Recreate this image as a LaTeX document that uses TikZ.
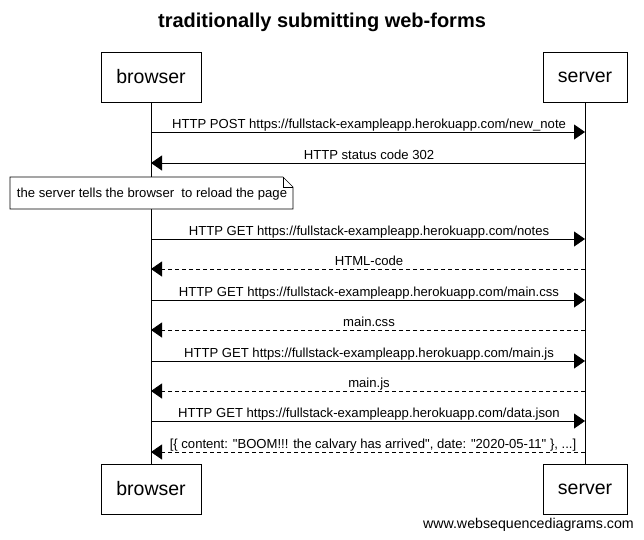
\documentclass[tikz,border=0pt]{standalone}
\usepackage{fontspec}
\setmainfont{Liberation Sans}[Ligatures=TeXOff]
\usetikzlibrary{arrows.meta}
\begin{document}
\begin{tikzpicture}[x=1pt,y=-1pt,
  actor/.style={draw,line width=0.8pt,minimum width=100pt,minimum height=50pt,inner sep=0pt,font=\fontsize{19.5}{22}\selectfont},
  msg/.style={line width=0.8pt,-{Triangle[length=11pt,width=15pt]}},
  reply/.style={msg,dashed,dash pattern=on 4pt off 3pt},
  lbl/.style={font=\fontsize{13.1}{15}\selectfont,inner sep=0pt,anchor=base},
  life/.style={line width=0.8pt}]
\useasboundingbox (0,0) rectangle (644,539);
\node[font=\bfseries\fontsize{20}{22}\selectfont] (title) at (322,22) {traditionally submitting web-forms};
\node[actor] (bt) at (151,77) {browser};
\node[actor,minimum width=84pt] (st) at (585,77) {server};
\node[actor] (bb) at (151,489) {browser};
\node[actor,minimum width=84pt] (sb) at (585,489) {server};
\draw[life] (bt.south) -- (bb.north);
\draw[life] (st.south) -- (sb.north);
% message rows
\foreach \n/\y in {1/132,2/163,3/239,4/269,5/300,6/330,7/361,8/391,9/421,10/452}{
  \coordinate (b\n) at (151,\y);
  \coordinate (s\n) at (585,\y);
}
\draw[msg] (b1) -- (s1);
\node[lbl] (l1) at (369,128) {HTTP POST https://fullstack-exampleapp.herokuapp.com/new\_note};
\draw[msg] (s2) -- (b2);
\node[lbl] (l2) at (369,159) {HTTP status code 302};
% note
\coordinate (n1) at (10,177);
\coordinate (n2) at (283,177);
\coordinate (n3) at (293,187);
\coordinate (n4) at (293,209);
\coordinate (n5) at (10,209);
\draw[line width=0.6pt,fill=white] (n1) -- (n2) -- (n3) -- (n4) -- (n5) -- cycle;
\draw[line width=0.6pt] (n2) -- (283,187) -- (n3);
\node[lbl,font=\fontsize{13.1}{15}\selectfont] (note) at (152,197) {the server tells the browser\ \ to reload the page};
\draw[msg] (b3) -- (s3);
\node[lbl] (l3) at (369,235) {HTTP GET https://fullstack-exampleapp.herokuapp.com/notes};
\draw[reply] (s4) -- (b4);
\node[lbl] (l4) at (369,265) {HTML-code};
\draw[msg] (b5) -- (s5);
\node[lbl] (l5) at (369,296) {HTTP GET https://fullstack-exampleapp.herokuapp.com/main.css};
\draw[reply] (s6) -- (b6);
\node[lbl] (l6) at (369,326) {main.css};
\draw[msg] (b7) -- (s7);
\node[lbl] (l7) at (369,357) {HTTP GET https://fullstack-exampleapp.herokuapp.com/main.js};
\draw[reply] (s8) -- (b8);
\node[lbl] (l8) at (369,387) {main.js};
\draw[msg] (b9) -- (s9);
\node[lbl] (l9) at (369,417) {HTTP GET https://fullstack-exampleapp.herokuapp.com/data.json};
\draw[reply] (s10) -- (b10);
\node[lbl] (l10) at (373,448) {[\{ content: "BOOM!!! the calvary has arrived", date: "2020-05-11" \}, ...]};
\node[font=\fontsize{14.2}{16}\selectfont,anchor=base east,inner sep=0pt] (footer) at (634,528) {www.websequencediagrams.com};
\end{tikzpicture}
\end{document}
